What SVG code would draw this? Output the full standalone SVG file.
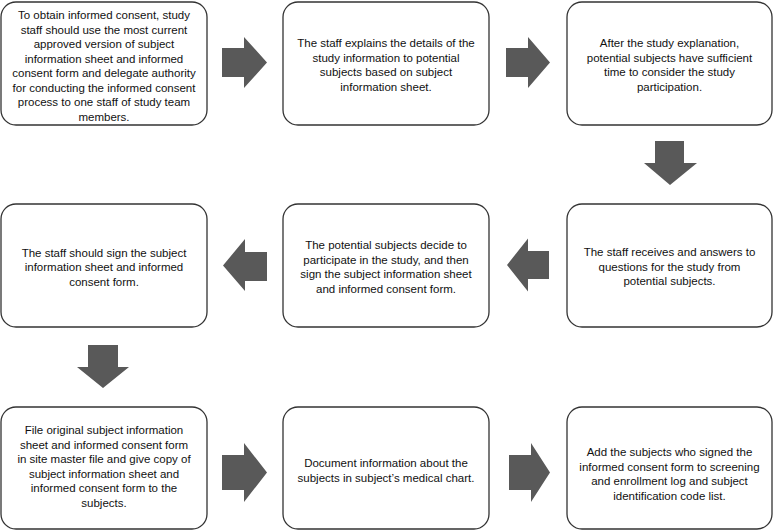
<svg xmlns="http://www.w3.org/2000/svg" width="773" height="531" viewBox="0 0 773 531">
<style>
.box{fill:#fff;stroke:#333;stroke-width:1.3}
.arr{fill:#595959}
text{font-family:"Liberation Sans",Arial,sans-serif;font-size:11.5px;fill:#111;text-anchor:middle}
</style>
<rect width="773" height="531" fill="#fff"/>
<g id="n1"><rect class="box" x="1" y="2" width="206" height="123" rx="15"/>
<text><tspan x="104" y="19">To obtain informed consent, study</tspan><tspan x="104" y="33.5">staff should use the most current</tspan><tspan x="104" y="48">approved version of subject</tspan><tspan x="104" y="62.5">information sheet and informed</tspan><tspan x="104" y="77">consent form and delegate authority</tspan><tspan x="104" y="91.5">for conducting the informed consent</tspan><tspan x="104" y="106">process to one staff of study team</tspan><tspan x="104" y="120.5">members.</tspan></text></g>
<g id="n2"><rect class="box" x="283" y="2" width="206" height="123" rx="15"/>
<text><tspan x="386" y="47">The staff explains the details of the</tspan><tspan x="386" y="61.5">study information to potential</tspan><tspan x="386" y="76">subjects based on subject</tspan><tspan x="386" y="90.5">information sheet.</tspan></text></g>
<g id="n3"><rect class="box" x="567" y="2" width="205" height="123" rx="15"/>
<text><tspan x="669.5" y="47">After the study explanation,</tspan><tspan x="669.5" y="61.5">potential subjects have sufficient</tspan><tspan x="669.5" y="76">time to consider the study</tspan><tspan x="669.5" y="90.5">participation.</tspan></text></g>
<g id="n4"><rect class="box" x="567" y="204" width="205" height="123" rx="15"/>
<text><tspan x="669.5" y="256">The staff receives and answers to</tspan><tspan x="669.5" y="270.5">questions for the study from</tspan><tspan x="669.5" y="285">potential subjects.</tspan></text></g>
<g id="n5"><rect class="box" x="283" y="204" width="206" height="123" rx="15"/>
<text><tspan x="386" y="249">The potential subjects decide to</tspan><tspan x="386" y="263.5">participate in the study, and then</tspan><tspan x="386" y="278">sign the subject information sheet</tspan><tspan x="386" y="292.5">and informed consent form.</tspan></text></g>
<g id="n6"><rect class="box" x="1" y="204" width="206" height="123" rx="15"/>
<text><tspan x="104" y="256.5">The staff should sign the subject</tspan><tspan x="104" y="271">information sheet and informed</tspan><tspan x="104" y="285.5">consent form.</tspan></text></g>
<g id="n7"><rect class="box" x="1" y="407" width="206" height="122" rx="15"/>
<text><tspan x="104" y="434">File original subject information</tspan><tspan x="104" y="448.5">sheet and informed consent form</tspan><tspan x="104" y="463">in site master file and give copy of</tspan><tspan x="104" y="477.5">subject information sheet and</tspan><tspan x="104" y="492">informed consent form to the</tspan><tspan x="104" y="506.5">subjects.</tspan></text></g>
<g id="n8"><rect class="box" x="283" y="407" width="206" height="122" rx="15"/>
<text><tspan x="386" y="467">Document information about the</tspan><tspan x="386" y="481.5">subjects in subject’s medical chart.</tspan></text></g>
<g id="n9"><rect class="box" x="567" y="407" width="205" height="122" rx="15"/>
<text><tspan x="669.5" y="456">Add the subjects who signed the</tspan><tspan x="669.5" y="470.5">informed consent form to screening</tspan><tspan x="669.5" y="485">and enrollment log and subject</tspan><tspan x="669.5" y="499.5">identification code list.</tspan></text></g>
<g id="connectors">
<path class="arr" d="M222,48 H244 V37 L267,62.5 L244,88 V77 H222 Z"/>
<path class="arr" d="M506,48 H528 V37 L550,62.5 L528,88 V77 H506 Z"/>
<path class="arr" d="M655,141 H684 V163 H697 L670,185 L644,163 H655 Z"/>
<path class="arr" d="M549,251 H528 V238.5 L507,265 L528,291.5 V279 H549 Z"/>
<path class="arr" d="M267,252 H245 V239 L223,265.5 L245,291 V281 H267 Z"/>
<path class="arr" d="M88,345 H118 V367 H129 L103,388 L77,367 H88 Z"/>
<path class="arr" d="M222,455 H244 V443 L267,472.5 L244,502 V490 H222 Z"/>
<path class="arr" d="M509,455 H531 V443 L550,472.5 L531,502 V490 H509 Z"/>
</g>
</svg>
